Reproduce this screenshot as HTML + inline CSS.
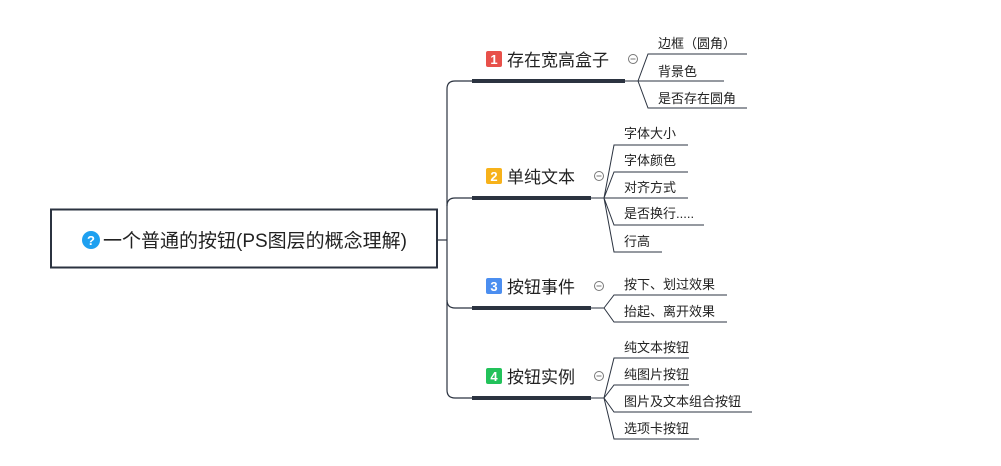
<!DOCTYPE html>
<html><head><meta charset="utf-8"><style>
html,body{margin:0;padding:0;background:#fff;}
svg text{font-family:"Liberation Sans","Noto Sans CJK SC",sans-serif;}
</style></head><body>
<svg width="1001" height="461" viewBox="0 0 1001 461" xmlns="http://www.w3.org/2000/svg">
<rect x="0" y="0" width="1001" height="461" fill="#fff"/>
<!-- root -->
<rect x="51" y="209.5" width="386" height="58" fill="#fff" stroke="#2b3340" stroke-width="2"/>
<circle cx="91" cy="240" r="9" fill="#1ea0f0"/>
<text x="91" y="245" font-size="13" font-weight="bold" fill="#fff" text-anchor="middle">?</text>
<text x="103" y="247" font-size="19" fill="#222">一个普通的按钮(PS图层的概念理解)</text>
<!-- trunk -->
<g fill="none" stroke="#2b3340" stroke-width="1.2">
<line x1="437" y1="240" x2="447" y2="240"/>
<path d="M472 81 H455 Q447 81 447 89 V390 Q447 398 455 398 H472"/>
<path d="M472 198 H455 Q447 198 447 206"/>
<path d="M472 308 H455 Q447 308 447 300"/>
</g>
<!-- branch underlines -->
<g stroke="#2b3340" stroke-width="4">
<line x1="472" y1="81" x2="625" y2="81"/>
<line x1="472" y1="198" x2="591" y2="198"/>
<line x1="472" y1="308" x2="591" y2="308"/>
<line x1="472" y1="398" x2="591" y2="398"/>
</g>
<g stroke="#2b3340" stroke-width="1">
<line x1="625" y1="81" x2="638" y2="81"/>
<line x1="591" y1="198" x2="604" y2="198"/>
<line x1="591" y1="308" x2="604" y2="308"/>
<line x1="591" y1="398" x2="604" y2="398"/>
</g>
<!-- badges -->
<rect x="486" y="51" width="16" height="16" rx="2" fill="#e8504a"/>
<text x="494" y="64" font-size="13" font-weight="bold" fill="#fff" text-anchor="middle">1</text>
<text x="507" y="66" font-size="17" fill="#222">存在宽高盒子</text>
<rect x="486" y="168" width="16" height="16" rx="2" fill="#f7b21a"/>
<text x="494" y="181" font-size="13" font-weight="bold" fill="#fff" text-anchor="middle">2</text>
<text x="507" y="183" font-size="17" fill="#222">单纯文本</text>
<rect x="486" y="278" width="16" height="16" rx="2" fill="#4b8ef0"/>
<text x="494" y="291" font-size="13" font-weight="bold" fill="#fff" text-anchor="middle">3</text>
<text x="507" y="293" font-size="17" fill="#222">按钮事件</text>
<rect x="486" y="368" width="16" height="16" rx="2" fill="#22c25a"/>
<text x="494" y="381" font-size="13" font-weight="bold" fill="#fff" text-anchor="middle">4</text>
<text x="507" y="383" font-size="17" fill="#222">按钮实例</text>
<!-- collapse circles -->
<g fill="#fff" stroke="#777" stroke-width="1">
<circle cx="633" cy="59" r="4.5"/><circle cx="599" cy="176" r="4.5"/>
<circle cx="599" cy="286" r="4.5"/><circle cx="599" cy="376" r="4.5"/>
</g>
<g stroke="#777" stroke-width="1">
<line x1="630.5" y1="59" x2="635.5" y2="59"/><line x1="596.5" y1="176" x2="601.5" y2="176"/>
<line x1="596.5" y1="286" x2="601.5" y2="286"/><line x1="596.5" y1="376" x2="601.5" y2="376"/>
</g>
<!-- children -->
<g fill="none" stroke="#2b3340" stroke-width="1">
<path d="M638 81 L648 54 H747 M638 81 H724 M638 81 L648 108 H747"/>
<path d="M604 198 L614 145 H688 M604 198 L614 172 H688 M604 198 H688 M604 198 L614 225 H704 M604 198 L614 252 H662"/>
<path d="M604 308 L614 295 H727 M604 308 L614 322 H727"/>
<path d="M604 398 L614 358 H689 M604 398 L614 385 H689 M604 398 L614 412 H752 M604 398 L614 439 H699"/>
</g>
<g font-size="13" fill="#222">
<text x="658" y="48">边框（圆角）</text>
<text x="658" y="76">背景色</text>
<text x="658" y="103">是否存在圆角</text>
<text x="624" y="138">字体大小</text>
<text x="624" y="165">字体颜色</text>
<text x="624" y="192">对齐方式</text>
<text x="624" y="218">是否换行.....</text>
<text x="624" y="246">行高</text>
<text x="624" y="289">按下、划过效果</text>
<text x="624" y="316">抬起、离开效果</text>
<text x="624" y="352">纯文本按钮</text>
<text x="624" y="379">纯图片按钮</text>
<text x="624" y="406">图片及文本组合按钮</text>
<text x="624" y="433">选项卡按钮</text>
</g>
</svg>
</body></html>
